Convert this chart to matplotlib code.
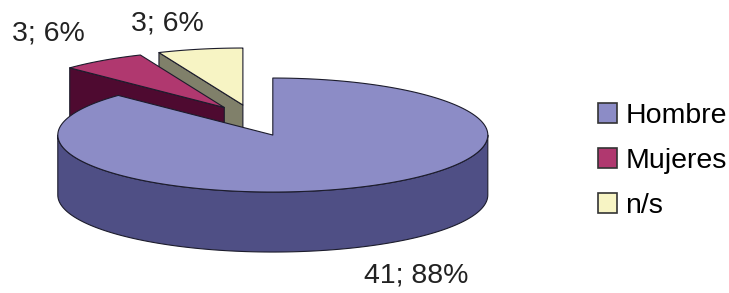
import numpy as np
import matplotlib.pyplot as plt
from matplotlib.patches import Polygon, Patch

plt.rcParams['font.family'] = ['Liberation Sans', 'DejaVu Sans']

# data
categories = ['Hombre', 'Mujeres', 'n/s']
counts = [41, 3, 3]
percents = [88, 6, 6]

# colours: (top face, side wall)
tops = ['#8c8cc6', '#b0386f', '#f7f4c4']
sides = ['#4f4f85', '#4e0a30', '#80806a']
edge = '#1c1c2c'

# pie geometry in pixel units
cx, cy = 253, 120.5
RX, RY = 215, 57
DEPTH = 60
EX, EY = 0.236, 0.277     # explosion
label_pos = [(416, 276), (48, 34), (167, 23)]

fig = plt.figure(figsize=(7.29, 2.93), dpi=100)
ax = fig.add_axes([0, 0, 1, 1])
ax.set_xlim(0, 729)
ax.set_ylim(293, 0)
ax.axis('off')


def rim(x0, y0, a):
    t = np.radians(a)
    return x0 + RX * np.cos(t), y0 - RY * np.sin(t)


# angles: start at 12 o'clock, go clockwise -> store as ccw ranges
total = sum(counts)
slices = []
end = 90.0
for i, c in enumerate(counts):
    start = end - 360.0 * c / total
    a0, a1 = start, end
    if a0 < 0:
        a0, a1 = a0 + 360, a1 + 360
    mid = np.radians((a0 + a1) / 2)
    x0 = cx + EX * RX * np.cos(mid)
    y0 = cy - EY * RY * np.sin(mid)
    slices.append((i, a0, a1, x0, y0))
    end = start

# back to front
for i, a0, a1, x0, y0 in sorted(slices, key=lambda s: s[4]):
    kw = dict(closed=True, ec=edge, lw=0.8, joinstyle='round')
    # radial walls
    for a, nrm in ((a0, a0 - 90), (a1, a1 + 90)):
        if np.sin(np.radians(nrm)) < -1e-6:
            xr, yr = rim(x0, y0, a)
            ax.add_patch(Polygon([(x0, y0), (xr, yr), (xr, yr + DEPTH), (x0, y0 + DEPTH)],
                                 fc=sides[i], **kw))
    # outer wall on the front half
    for k in (-360, 0, 360):
        lo, hi = max(a0, 180 + k), min(a1, 360 + k)
        if hi > lo:
            th = np.linspace(lo, hi, 120)
            xs, ys = rim(x0, y0, th)
            pts = list(zip(xs, ys)) + list(zip(xs[::-1], ys[::-1] + DEPTH))
            ax.add_patch(Polygon(pts, fc=sides[i], **kw))
    # top face
    th = np.linspace(a0, a1, 200)
    xs, ys = rim(x0, y0, th)
    pts = [(x0, y0)] + list(zip(xs, ys))
    ax.add_patch(Polygon(pts, fc=tops[i], **kw))

for i in range(len(categories)):
    ax.text(*label_pos[i], f'{counts[i]}; {percents[i]}%', fontsize=20.5,
            color='#222222', ha='center', va='center')

handles = [Patch(fc=tops[i], ec='#333333', lw=1.2) for i in range(len(categories))]
ax.legend(handles, categories, loc='center left', bbox_to_anchor=(598 / 729, 1 - 161 / 293),
          frameon=False, fontsize=20.5, handlelength=0.66, handleheight=0.7,
          handletextpad=0.3, labelspacing=0.68, borderpad=0, borderaxespad=0)

fig.savefig('out.png', dpi=100)
